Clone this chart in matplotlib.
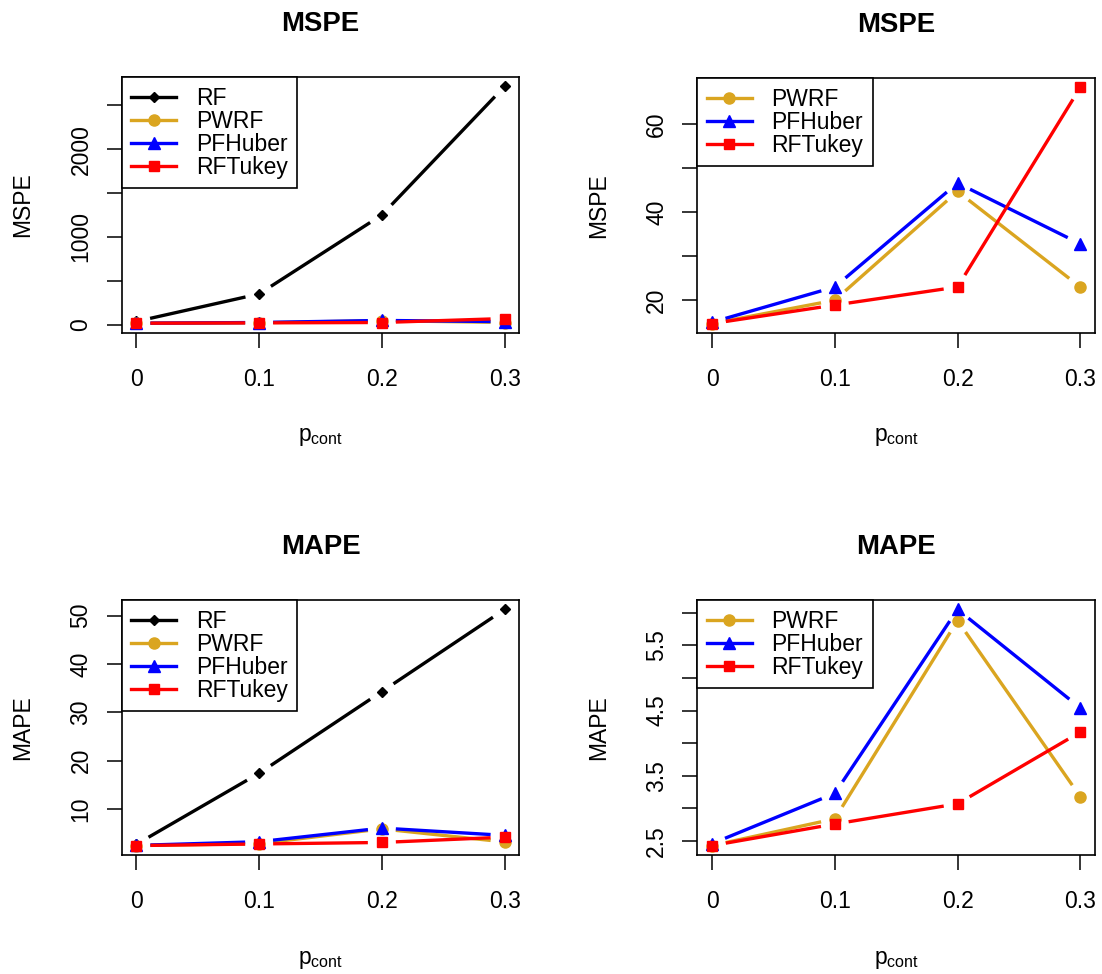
import numpy as np
import matplotlib
matplotlib.use('Agg')
import matplotlib.pyplot as plt
from matplotlib.lines import Line2D

plt.rcParams['font.family'] = ['Liberation Sans', 'DejaVu Sans']
plt.rcParams['mathtext.fontset'] = 'custom'
plt.rcParams['mathtext.rm'] = 'Liberation Sans'

# data
p_cont = [0, 0.1, 0.2, 0.3]
x_labels = ['0', '0.1', '0.2', '0.3']

mspe_rf = [35, 349, 1249, 2714]
mspe_pwrf = [14.7, 20.0, 44.7, 23.0]
mspe_pfhuber = [15.0, 23.0, 46.6, 32.8]
mspe_rftukey = [14.7, 18.9, 23.0, 68.3]

mape_rf = [2.7, 17.4, 34.3, 51.3]
mape_pwrf = [2.43, 2.84, 5.88, 3.18]
mape_pfhuber = [2.46, 3.23, 6.05, 4.54]
mape_rftukey = [2.43, 2.76, 3.07, 4.17]

# y ticks (R drops labels that would overlap)
tl_ticks = [0, 500, 1000, 1500, 2000, 2500]
tl_labels = ['0', '', '1000', '', '2000', '']
tr_ticks = [20, 30, 40, 50, 60]
tr_labels = ['20', '', '40', '', '60']
bl_ticks = [10, 20, 30, 40, 50]
bl_labels = ['10', '20', '30', '40', '50']
br_ticks = [2.5, 3.0, 3.5, 4.0, 4.5, 5.0, 5.5, 6.0]
br_labels = ['2.5', '', '3.5', '', '4.5', '', '5.5', '']

names = ['RF', 'PWRF', 'PFHuber', 'RFTukey']
colors = {'RF': 'black', 'PWRF': '#DAA520', 'PFHuber': 'blue', 'RFTukey': 'red'}
markers = {'RF': 'D', 'PWRF': 'o', 'PFHuber': '^', 'RFTukey': 's'}
msizes = {'RF': 5.5, 'PWRF': 8, 'PFHuber': 8.5, 'RFTukey': 7.5}

FS = 16.5
LW = 2.4
GAP = 14  # pixels left open around each point, like R type="b"

W, H = 1102, 974
fig = plt.figure(figsize=(W / 100, H / 100), dpi=100)


def box(left, top, right, bottom):
    return [left / W, 1 - bottom / H, (right - left) / W, (bottom - top) / H]


def draw_b(ax, x, y, name):
    pts = ax.transData.transform(np.column_stack([x, y]))
    inv = ax.transData.inverted()
    for i in range(len(x) - 1):
        d = pts[i + 1] - pts[i]
        L = np.hypot(d[0], d[1])
        if L <= 2 * GAP:
            continue
        u = d / L
        seg = inv.transform(np.array([pts[i] + u * GAP, pts[i + 1] - u * GAP]))
        ax.plot(seg[:, 0], seg[:, 1], color=colors[name], lw=LW, solid_capstyle='butt')
    ax.plot(x, y, linestyle='none', marker=markers[name], color=colors[name], ms=msizes[name])


def panel(pos, title, ylab, series, yticks, ylabels):
    ax = fig.add_axes(box(*pos))
    allv = np.concatenate([np.array(v, float) for v in series.values()])
    lo, hi = allv.min(), allv.max()
    ax.set_xlim(-0.012, 0.312)
    ax.set_ylim(lo - 0.04 * (hi - lo), hi + 0.04 * (hi - lo))
    for name, vals in series.items():
        draw_b(ax, p_cont, vals, name)

    ax.set_xticks(p_cont)
    ax.set_xticklabels(x_labels)
    ax.set_yticks(yticks)
    ax.set_yticklabels(ylabels)
    ax.tick_params(axis='x', length=11, width=1.1, pad=14.5, labelsize=FS)
    ax.tick_params(axis='y', length=11, width=1.1, pad=10, labelsize=FS, labelrotation=90)
    for t in ax.get_yticklabels():
        t.set_va('center')
    for s in ax.spines.values():
        s.set_linewidth(1.2)

    ax.set_title(title, fontsize=19.8, fontweight='bold', pad=33)
    ax.set_xlabel(r'$\mathregular{p_{cont}}$', fontsize=FS, va='center')
    ax.xaxis.set_label_coords(0.5, -104 / 255)
    ax.set_ylabel(ylab, fontsize=FS, va='center')
    ax.yaxis.set_label_coords(-99 / 397.6, 0.5)

    handles = [Line2D([], [], color=colors[n], lw=LW, marker=markers[n], ms=msizes[n])
               for n in series]
    leg = ax.legend(handles, list(series.keys()), loc='upper left', bbox_to_anchor=(0, 1),
                    borderaxespad=0, fontsize=FS, fancybox=False, framealpha=1,
                    edgecolor='black', handlelength=1.95, handletextpad=0.87,
                    labelspacing=0.0, borderpad=0.42)
    leg.get_frame().set_linewidth(1.2)
    return ax


panel((121.7, 77, 519.3, 332.7), 'MSPE', 'MSPE',
      {'RF': mspe_rf, 'PWRF': mspe_pwrf, 'PFHuber': mspe_pfhuber, 'RFTukey': mspe_rftukey},
      tl_ticks, tl_labels)
panel((697.3, 78, 1095, 333), 'MSPE', 'MSPE',
      {'PWRF': mspe_pwrf, 'PFHuber': mspe_pfhuber, 'RFTukey': mspe_rftukey},
      tr_ticks, tr_labels)
panel((121.7, 600, 519.3, 855), 'MAPE', 'MAPE',
      {'RF': mape_rf, 'PWRF': mape_pwrf, 'PFHuber': mape_pfhuber, 'RFTukey': mape_rftukey},
      bl_ticks, bl_labels)
panel((697.3, 600, 1095, 855), 'MAPE', 'MAPE',
      {'PWRF': mape_pwrf, 'PFHuber': mape_pfhuber, 'RFTukey': mape_rftukey},
      br_ticks, br_labels)

fig.savefig('out.png', dpi=100)
